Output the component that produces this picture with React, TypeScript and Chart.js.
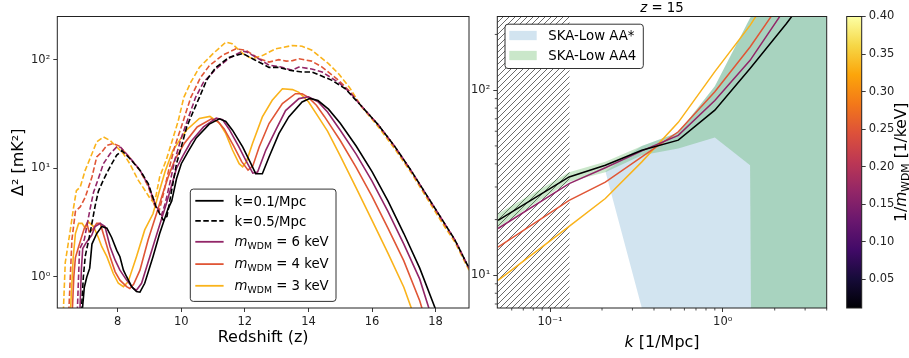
import React, { useEffect, useRef } from "react";
import { Chart, registerables } from "chart.js";

Chart.register(...registerables);

const FONT = "'DejaVu Sans', 'Liberation Sans', sans-serif";
Chart.defaults.font.family = FONT;

// ================= LEFT PANEL DATA: Δ²(z) =================
const zTicks = [8, 10, 12, 14, 16, 18];
const leftYTicks = [1, 10, 100];
const leftYTickLabels = ["10⁰", "10¹", "10²"];

// CDM (black), k = 0.1/Mpc
const zCdmK01 = [6.86, 6.95, 7.03, 7.12, 7.19, 7.34, 7.5, 7.66, 7.81, 7.97, 8.07, 8.18, 8.28, 8.44, 8.59, 8.7, 8.85, 9.11, 9.32, 9.58, 9.7, 9.85, 10.0, 10.2, 10.47, 10.88, 11.2, 11.4, 11.61, 11.93, 12.19, 12.34, 12.55, 12.76, 13.07, 13.38, 13.8, 14.05, 14.3, 14.63, 15.0, 15.5, 16.0, 16.5, 17.0, 17.5, 18.0, 18.1];
const dCdmK01 = [0.4, 0.8, 1.0, 1.2, 2.0, 2.5, 2.9, 2.8, 2.3, 1.75, 1.53, 1.15, 1.0, 0.81, 0.73, 0.72, 0.87, 1.53, 2.5, 4.2, 5.0, 8.0, 11.0, 14.0, 19.0, 25.5, 28.5, 27.0, 22.4, 15.7, 11.0, 8.9, 8.9, 12.7, 20.8, 29.7, 40.8, 44.0, 42.0, 35.0, 26.0, 16.0, 9.3, 5.0, 2.5, 1.2, 0.5, 0.42];
// 6 keV, k = 0.1/Mpc
const z6K01 = [6.8, 6.86, 6.9, 6.98, 7.08, 7.18, 7.29, 7.45, 7.6, 7.76, 7.92, 8.07, 8.28, 8.49, 8.59, 8.75, 9.01, 9.27, 9.53, 9.7, 9.85, 10.05, 10.3, 10.7, 11.1, 11.3, 11.5, 11.8, 12.05, 12.25, 12.4, 12.66, 12.97, 13.28, 13.7, 14.0, 14.3, 14.6, 15.0, 15.5, 16.0, 16.5, 17.0, 17.5, 17.85];
const d6K01 = [0.4, 1.2, 1.82, 2.0, 2.2, 2.4, 2.9, 3.1, 2.9, 1.89, 1.42, 1.15, 0.93, 0.78, 0.75, 0.87, 1.53, 2.7, 4.7, 7.0, 10.0, 13.0, 17.5, 24.0, 29.0, 28.0, 23.0, 16.0, 11.5, 9.0, 9.2, 14.7, 22.4, 34.0, 43.8, 45.5, 41.0, 33.0, 22.4, 13.5, 7.6, 4.0, 2.0, 0.95, 0.45];
// 4 keV, k = 0.1/Mpc
const z4K01 = [6.56, 6.62, 6.67, 6.77, 6.84, 6.95, 7.03, 7.1, 7.2, 7.34, 7.45, 7.6, 7.76, 7.92, 8.07, 8.28, 8.38, 8.5, 8.7, 8.96, 9.22, 9.43, 9.6, 9.8, 10.1, 10.5, 10.95, 11.15, 11.35, 11.65, 11.9, 12.1, 12.25, 12.45, 12.76, 13.18, 13.59, 13.8, 14.0, 14.25, 14.5, 15.0, 15.5, 16.0, 16.5, 17.0, 17.5, 17.6];
const d4K01 = [0.4, 1.0, 1.5, 1.89, 2.2, 2.8, 3.1, 2.6, 2.7, 3.1, 3.1, 2.2, 1.53, 1.11, 0.93, 0.81, 0.78, 0.85, 1.15, 2.2, 3.8, 6.0, 8.5, 12.0, 17.0, 24.0, 28.5, 27.0, 23.0, 16.0, 11.5, 9.6, 10.5, 15.7, 25.8, 39.4, 48.6, 48.5, 45.0, 38.0, 30.0, 18.0, 10.2, 5.5, 2.8, 1.4, 0.6, 0.48];
// 3 keV, k = 0.1/Mpc
const z3K01 = [6.5, 6.6, 6.67, 6.77, 6.88, 6.98, 7.08, 7.24, 7.39, 7.5, 7.66, 7.86, 8.02, 8.18, 8.33, 8.59, 8.85, 9.11, 9.32, 9.5, 9.74, 10.16, 10.57, 10.9, 11.2, 11.4, 11.61, 11.82, 11.93, 12.05, 12.24, 12.55, 12.86, 13.18, 13.5, 13.7, 14.0, 14.3, 14.6, 15.0, 15.5, 16.0, 16.5, 17.0, 17.25];
const d3K01 = [0.4, 1.5, 2.5, 3.1, 3.1, 2.8, 3.2, 2.9, 2.3, 1.89, 1.53, 1.07, 0.87, 0.81, 0.9, 1.53, 2.7, 3.8, 6.3, 9.5, 14.7, 22.4, 28.7, 30.0, 26.0, 20.8, 14.7, 11.0, 10.3, 11.5, 16.9, 29.7, 42.3, 54.0, 53.0, 50.0, 41.0, 30.0, 22.0, 13.0, 6.6, 3.3, 1.65, 0.8, 0.5];

// CDM, k = 0.5/Mpc
const zCdmK05 = [6.84, 6.92, 6.98, 7.13, 7.29, 7.39, 7.55, 7.76, 7.97, 8.13, 8.38, 8.7, 8.96, 9.22, 9.44, 9.55, 9.7, 9.85, 10.0, 10.17, 10.37, 10.57, 10.8, 11.09, 11.5, 11.93, 12.3, 12.76, 13.07, 13.4, 13.8, 14.11, 14.4, 14.74, 15.16, 15.68, 16.2, 16.72, 17.24, 17.76, 18.28, 18.6, 19.05];
const dCdmK05 = [0.4, 1.0, 1.55, 2.5, 4.5, 6.1, 7.8, 10.3, 13.2, 14.5, 12.3, 9.6, 7.2, 4.3, 3.3, 3.6, 6.3, 11.0, 15.7, 24.0, 33.0, 45.0, 65.0, 85.0, 105.0, 114.0, 100.0, 85.0, 85.0, 80.0, 77.0, 77.0, 71.0, 64.5, 54.0, 37.0, 25.0, 15.8, 9.4, 5.4, 3.1, 2.2, 1.2];
// 6 keV, k = 0.5/Mpc
const z6K05 = [6.72, 6.8, 6.95, 7.13, 7.24, 7.39, 7.55, 7.76, 7.97, 8.1, 8.38, 8.7, 8.96, 9.2, 9.38, 9.5, 9.65, 9.8, 10.0, 10.2, 10.45, 10.7, 11.09, 11.5, 11.93, 12.05, 12.34, 12.76, 13.1, 13.49, 13.7, 14.1, 14.43, 14.95, 15.3, 15.68, 16.2, 16.72, 17.24, 17.76, 18.28, 18.6, 19.05];
const d6K05 = [0.4, 1.8, 2.2, 4.2, 6.0, 8.0, 11.0, 13.6, 15.7, 15.5, 12.5, 9.6, 7.0, 4.5, 3.7, 4.8, 7.5, 12.0, 19.0, 28.0, 45.0, 62.0, 82.0, 103.0, 120.0, 118.0, 106.0, 89.0, 86.0, 80.0, 85.5, 82.0, 77.0, 61.7, 50.0, 37.0, 25.0, 15.8, 9.4, 5.4, 3.1, 2.2, 1.2];
// 4 keV, k = 0.5/Mpc
const z4K05 = [6.45, 6.56, 6.67, 6.82, 6.98, 7.19, 7.34, 7.5, 7.66, 7.86, 8.05, 8.38, 8.7, 8.96, 9.15, 9.3, 9.45, 9.6, 9.8, 10.0, 10.3, 10.6, 10.88, 11.3, 11.72, 12.03, 12.45, 12.76, 13.07, 13.3, 13.5, 13.7, 14.1, 14.43, 14.95, 15.3, 15.68, 16.2, 16.72, 17.24, 17.76, 18.28, 18.6, 19.05];
const d4K05 = [0.4, 2.2, 4.0, 4.4, 5.4, 8.3, 12.7, 14.1, 16.2, 16.9, 16.0, 12.5, 9.5, 6.8, 4.6, 4.0, 6.0, 9.5, 16.0, 24.0, 45.0, 68.0, 88.0, 110.0, 126.0, 122.0, 102.0, 95.0, 100.0, 97.0, 98.0, 102.0, 97.0, 85.5, 64.5, 51.0, 37.0, 25.0, 15.7, 9.3, 5.3, 3.05, 2.2, 1.2];
// 3 keV, k = 0.5/Mpc
const z3K05 = [6.28, 6.35, 6.51, 6.61, 6.7, 6.82, 6.98, 7.19, 7.34, 7.55, 7.76, 7.92, 8.18, 8.38, 8.64, 8.85, 9.01, 9.11, 9.2, 9.32, 9.53, 9.74, 9.9, 10.08, 10.3, 10.57, 10.99, 11.4, 11.6, 11.82, 12.0, 12.24, 12.55, 12.97, 13.49, 13.8, 14.11, 14.63, 14.95, 15.3, 15.68, 16.2, 16.72, 17.24, 17.76, 18.28, 18.6, 19.05];
const d3K05 = [0.4, 1.35, 2.7, 4.3, 6.2, 6.7, 9.6, 13.6, 17.5, 19.4, 18.0, 16.2, 13.6, 11.0, 7.8, 6.3, 5.3, 4.9, 5.5, 8.3, 12.0, 19.0, 27.0, 45.0, 62.0, 85.0, 113.0, 145.0, 140.0, 122.0, 110.0, 102.0, 109.0, 126.0, 135.0, 133.0, 122.0, 92.0, 74.0, 55.0, 36.5, 24.0, 15.0, 9.0, 5.1, 2.9, 2.1, 1.15];

// ================= RIGHT PANEL DATA: Δ²(k) at z = 15 =================
const kBins = [0.05, 0.129, 0.209, 0.34, 0.553, 0.9, 1.44, 2.34, 3.8];
const psCdm = [19.8, 34, 39.3, 47.4, 53.7, 78, 131, 229, 420];
const ps6 = [17.9, 31.3, 38.1, 47, 57, 88, 145, 283, 500];
const ps4 = [14.2, 25.4, 31.9, 43.6, 59.6, 98, 171, 330, 600];
const ps3 = [9.4, 18.4, 26, 41, 67, 126, 224, 450, 800];

const kAA4 = [0.05, 0.129, 0.209, 0.34, 0.553, 0.9, 1.44, 2.34, 3.8, 4.5];
const aa4Upper = [21.5, 36, 41, 50, 59, 105, 245, 520, 1000, 1200];
const aa4Lower = [18.2, 32, 36, 44.5, 48.4, 55.5, 39.3, 1e-30, 1e-30, 1e-30];

const kAAstar = [0.209, 0.34, 0.553, 0.9, 1.44, 2.34, 3.8, 4.5];
const aaStarUpper = [36.5, 50, 59, 105, 245, 520, 1000, 1200];
const aaStarLower = [36.5, 6.66, 1e-30, 1e-30, 1e-30, 1e-30, 1e-30, 1e-30];

const hatchK = [0.03, 0.13];
const hatchTop = [1000, 1000];

const rightXMajor = [0.1, 1];
const rightXMajorLabels = ["10⁻¹", "10⁰"];
const rightXMinor = [0.06, 0.07, 0.08, 0.09, 0.2, 0.3, 0.4, 0.5, 0.6, 0.7, 0.8, 0.9, 2, 3, 4];
const rightYMajor = [10, 100];
const rightYMajorLabels = ["10¹", "10²"];
const rightYMinor = [7, 8, 9, 20, 30, 40, 50, 60, 70, 80, 90, 200];

// ================= COLORBAR =================
const cbMin = 0.0115;
const cbMax = 0.4;
const cbTicks = [0.05, 0.1, 0.15, 0.2, 0.25, 0.3, 0.35, 0.4];
const INFERNO = ["#000004", "#160b39", "#420a68", "#6a176e", "#932667", "#bc3754", "#dd513a", "#f37819", "#fca50a", "#f6d746", "#fcffa4"];

// ================= STYLES =================
const COL_CDM = "#000000";
const COL_6 = "#922668";
const COL_4 = "#e05636";
const COL_3 = "#fab31b";
const AXIS_COL = "#222222";
const BLUE_FILL = "rgba(31,119,180,0.2)";
const GREEN_FILL = "rgba(44,160,44,0.25)";

type Part = { t: string; it?: boolean; sub?: boolean };

function fontFor(p: Part, size: number) {
  const s = p.sub ? size * 0.7 : size;
  return `${p.it ? "italic " : ""}${s}px ${FONT}`;
}
function measureRich(ctx: CanvasRenderingContext2D, parts: Part[], size: number) {
  let w = 0;
  for (const p of parts) {
    ctx.font = fontFor(p, size);
    w += ctx.measureText(p.t).width;
  }
  return w;
}
function drawRich(ctx: CanvasRenderingContext2D, parts: Part[], x: number, y: number, size: number, align: "left" | "center", color = "#000") {
  const w = measureRich(ctx, parts, size);
  let cx = align === "center" ? x - w / 2 : x;
  ctx.save();
  ctx.fillStyle = color;
  ctx.textAlign = "left";
  ctx.textBaseline = "alphabetic";
  for (const p of parts) {
    ctx.font = fontFor(p, size);
    const dy = p.sub ? size * 0.22 : 0;
    ctx.fillText(p.t, cx, y + dy);
    cx += ctx.measureText(p.t).width;
  }
  ctx.restore();
}

const leftLegendItems: { parts: Part[]; color: string; dash: boolean }[] = [
  { parts: [{ t: "k=0.1/Mpc" }], color: COL_CDM, dash: false },
  { parts: [{ t: "k=0.5/Mpc" }], color: COL_CDM, dash: true },
  { parts: [{ t: "m", it: true }, { t: "WDM", sub: true }, { t: " = 6 keV" }], color: COL_6, dash: false },
  { parts: [{ t: "m", it: true }, { t: "WDM", sub: true }, { t: " = 4 keV" }], color: COL_4, dash: false },
  { parts: [{ t: "m", it: true }, { t: "WDM", sub: true }, { t: " = 3 keV" }], color: COL_3, dash: false },
];
const rightLegendItems = [
  { label: "SKA-Low AA*", color: BLUE_FILL },
  { label: "SKA-Low AA4", color: GREEN_FILL },
];

const DASH = [5.5, 2.5];
const LEG = 13.3;

function lineDS(xs: number[], ys: number[], color: string, dashed: boolean, width = 1.6) {
  return {
    data: xs.map((x, i) => ({ x, y: ys[i] })),
    borderColor: color,
    borderWidth: width,
    borderDash: dashed ? DASH : [],
    pointRadius: 0,
    fill: false,
    tension: 0,
    order: 0,
  };
}

const framePlugin = {
  id: "frame",
  afterDatasetsDraw(chart: any) {
    const { ctx, chartArea: a } = chart;
    ctx.save();
    ctx.strokeStyle = AXIS_COL;
    ctx.lineWidth = 1;
    ctx.strokeRect(a.left, a.top, a.width, a.height);
    ctx.restore();
  },
};

function roundBox(ctx: CanvasRenderingContext2D, x: number, y: number, w: number, h: number) {
  ctx.save();
  ctx.beginPath();
  (ctx as any).roundRect(x, y, w, h, 3);
  ctx.fillStyle = "#ffffff";
  ctx.fill();
  ctx.strokeStyle = "#333333";
  ctx.lineWidth = 1;
  ctx.stroke();
  ctx.restore();
}

const leftLegendPlugin = {
  id: "leftLegend",
  afterDraw(chart: any) {
    const { ctx, chartArea: a } = chart;
    const w = 145.7, h = 112.3;
    const bx = a.left + (a.width - w) / 2;
    const by = a.bottom - 6.6 - h;
    roundBox(ctx, bx, by, w, h);
    const rows = [11.7, 31.7, 52.7, 75, 96.7];
    leftLegendItems.forEach((it, i) => {
      const cy = by + rows[i];
      ctx.save();
      ctx.strokeStyle = it.color;
      ctx.lineWidth = 1.8;
      ctx.setLineDash(it.dash ? DASH : []);
      ctx.beginPath();
      ctx.moveTo(bx + 5, cy);
      ctx.lineTo(bx + 33.3, cy);
      ctx.stroke();
      ctx.restore();
      const isMath = it.parts.length > 1;
      drawRich(ctx, it.parts, bx + 44.3, cy + (isMath ? 0.3 : 0.37) * LEG, LEG, "left");
    });
  },
};

const rightDecorPlugin = {
  id: "rightDecor",
  afterDraw(chart: any) {
    const { ctx, chartArea: a, scales } = chart;
    // minor ticks
    ctx.save();
    ctx.strokeStyle = AXIS_COL;
    ctx.lineWidth = 0.8;
    ctx.beginPath();
    for (const v of rightXMinor) {
      const px = scales.x.getPixelForValue(v);
      if (px < a.left - 0.5 || px > a.right + 0.5) continue;
      ctx.moveTo(px, a.bottom);
      ctx.lineTo(px, a.bottom + 2.5);
    }
    for (const v of rightYMinor) {
      const py = scales.y.getPixelForValue(v);
      if (py < a.top - 0.5 || py > a.bottom + 0.5) continue;
      ctx.moveTo(a.left, py);
      ctx.lineTo(a.left - 2.5, py);
    }
    ctx.stroke();
    ctx.restore();
    // legend
    const bx = a.left + 7.7, by = a.top + 7.7, w = 138.3, h = 44.3;
    roundBox(ctx, bx, by, w, h);
    const rows = [11.3, 31.3];
    rightLegendItems.forEach((it, i) => {
      const cy = by + rows[i];
      ctx.save();
      ctx.fillStyle = it.color;
      ctx.fillRect(bx + 4.3, cy - 4.65, 27.4, 9.3);
      ctx.restore();
      drawRich(ctx, [{ t: it.label }], bx + 43.3, cy + 0.37 * LEG, LEG, "left");
    });
    // title and x label
    const cx = (a.left + a.right) / 2;
    drawRich(ctx, [{ t: "z", it: true }, { t: " = 15" }], cx, 12, LEG, "center");
    drawRich(ctx, [{ t: "k", it: true }, { t: " [1/Mpc]" }], cx, 346.5, 16, "center");
  },
};

const cbTitlePlugin = {
  id: "cbTitle",
  afterDraw(chart: any) {
    const { ctx, chartArea: a } = chart;
    ctx.save();
    ctx.translate(66, (a.top + a.bottom) / 2);
    ctx.rotate(-Math.PI / 2);
    drawRich(ctx, [{ t: "1/" }, { t: "m", it: true }, { t: "WDM", sub: true }, { t: " [1/keV]" }], 0, 0, 15.5, "center");
    ctx.restore();
  },
};

function makeHatch(): CanvasPattern | string {
  const c = document.createElement("canvas");
  c.width = 6;
  c.height = 6;
  const g = c.getContext("2d");
  if (!g) return "rgba(0,0,0,0)";
  g.strokeStyle = "#5a5a5a";
  g.lineWidth = 0.9;
  g.beginPath();
  g.moveTo(-1, 7);
  g.lineTo(7, -1);
  g.moveTo(-1, 1);
  g.lineTo(1, -1);
  g.moveTo(5, 7);
  g.lineTo(7, 5);
  g.stroke();
  return g.createPattern(c, "repeat") || "rgba(0,0,0,0)";
}

const tickCommon = { font: { size: 11.5 }, color: AXIS_COL, padding: 3, maxRotation: 0, autoSkip: false };
const gridCommon = { drawOnChartArea: false, drawTicks: true, tickLength: 4, color: AXIS_COL, lineWidth: 0.9 };

export default function App() {
  const leftRef = useRef<HTMLCanvasElement>(null);
  const rightRef = useRef<HTMLCanvasElement>(null);
  const cbRef = useRef<HTMLCanvasElement>(null);

  useEffect(() => {
    const charts: Chart[] = [];
    const base = {
      responsive: false,
      maintainAspectRatio: false,
      animation: false as const,
      devicePixelRatio: 1,
      events: [] as any[],
    };

    // ---------- Left chart ----------
    if (leftRef.current) {
      const leftDatasets = [
        lineDS(zCdmK01, dCdmK01, COL_CDM, false),
        lineDS(zCdmK05, dCdmK05, COL_CDM, true),
        lineDS(z6K01, d6K01, COL_6, false),
        lineDS(z6K05, d6K05, COL_6, true),
        lineDS(z4K01, d4K01, COL_4, false),
        lineDS(z4K05, d4K05, COL_4, true),
        lineDS(z3K01, d3K01, COL_3, false),
        lineDS(z3K05, d3K05, COL_3, true),
      ];
      charts.push(
        new Chart(leftRef.current, {
          type: "line",
          data: { datasets: leftDatasets as any },
          options: {
            ...base,
            layout: { padding: { top: 16.5, right: 11, left: 0, bottom: 0 } },
            plugins: { legend: { display: false }, tooltip: { enabled: false }, title: { display: false } },
            scales: {
              x: {
                type: "linear",
                min: 6.1,
                max: 19.05,
                afterBuildTicks: (s: any) => {
                  s.ticks = zTicks.map((v) => ({ value: v }));
                },
                afterFit: (s: any) => {
                  s.height = 50;
                },
                grid: gridCommon,
                border: { display: false },
                ticks: { ...tickCommon, callback: (v: any) => String(v) },
                title: { display: true, text: "Redshift (z)", font: { size: 16 }, color: "#000", padding: { top: 0, bottom: 10.6 } },
              },
              y: {
                type: "logarithmic",
                min: 0.515,
                max: 250,
                afterBuildTicks: (s: any) => {
                  s.ticks = leftYTicks.map((v) => ({ value: v }));
                },
                afterFit: (s: any) => {
                  s.width = 57.3;
                },
                grid: gridCommon,
                border: { display: false },
                ticks: {
                  ...tickCommon,
                  callback: (v: any) => {
                    const i = leftYTicks.indexOf(Number(v));
                    return i >= 0 ? leftYTickLabels[i] : "";
                  },
                },
                title: { display: true, text: "Δ² [mK²]", font: { size: 16 }, color: "#000", padding: { top: 9, bottom: 0 } },
              },
            },
          } as any,
          plugins: [framePlugin, leftLegendPlugin],
        })
      );
    }

    // ---------- Right chart ----------
    if (rightRef.current) {
      const hatch = makeHatch();
      const rightDatasets: any[] = [
        lineDS(kBins, psCdm, COL_CDM, false, 1.5),
        lineDS(kBins, ps6, COL_6, false, 1.5),
        lineDS(kBins, ps4, COL_4, false, 1.5),
        lineDS(kBins, ps3, COL_3, false, 1.5),
        {
          data: kAA4.map((x, i) => ({ x, y: aa4Upper[i] })),
          borderWidth: 0,
          borderColor: "rgba(0,0,0,0)",
          backgroundColor: GREEN_FILL,
          pointRadius: 0,
          fill: "+1",
          tension: 0,
          order: 5,
        },
        {
          data: kAA4.map((x, i) => ({ x, y: aa4Lower[i] })),
          borderWidth: 0,
          borderColor: "rgba(0,0,0,0)",
          pointRadius: 0,
          fill: false,
          tension: 0,
          order: 5,
        },
        {
          data: kAAstar.map((x, i) => ({ x, y: aaStarUpper[i] })),
          borderWidth: 0,
          borderColor: "rgba(0,0,0,0)",
          backgroundColor: BLUE_FILL,
          pointRadius: 0,
          fill: "+1",
          tension: 0,
          order: 6,
        },
        {
          data: kAAstar.map((x, i) => ({ x, y: aaStarLower[i] })),
          borderWidth: 0,
          borderColor: "rgba(0,0,0,0)",
          pointRadius: 0,
          fill: false,
          tension: 0,
          order: 6,
        },
        {
          data: hatchK.map((x, i) => ({ x, y: hatchTop[i] })),
          borderWidth: 0,
          borderColor: "rgba(0,0,0,0)",
          backgroundColor: hatch,
          pointRadius: 0,
          fill: "start",
          tension: 0,
          order: 7,
        },
      ];
      charts.push(
        new Chart(rightRef.current, {
          type: "line",
          data: { datasets: rightDatasets },
          options: {
            ...base,
            layout: { padding: { top: 16.5, right: 13.3, left: 0, bottom: 0 } },
            plugins: {
              legend: { display: false },
              tooltip: { enabled: false },
              title: { display: false },
              filler: { drawTime: "beforeDatasetsDraw", propagate: false },
            },
            scales: {
              x: {
                type: "logarithmic",
                min: 0.0495,
                max: 4.0,
                afterBuildTicks: (s: any) => {
                  s.ticks = rightXMajor.map((v) => ({ value: v }));
                },
                afterFit: (s: any) => {
                  s.height = 50;
                },
                grid: gridCommon,
                border: { display: false },
                ticks: {
                  ...tickCommon,
                  callback: (v: any) => {
                    const i = rightXMajor.indexOf(Number(v));
                    return i >= 0 ? rightXMajorLabels[i] : "";
                  },
                },
              },
              y: {
                type: "logarithmic",
                min: 6.66,
                max: 250,
                afterBuildTicks: (s: any) => {
                  s.ticks = rightYMajor.map((v) => ({ value: v }));
                },
                afterFit: (s: any) => {
                  s.width = 37.3;
                },
                grid: gridCommon,
                border: { display: false },
                ticks: {
                  ...tickCommon,
                  callback: (v: any) => {
                    const i = rightYMajor.indexOf(Number(v));
                    return i >= 0 ? rightYMajorLabels[i] : "";
                  },
                },
              },
            },
          } as any,
          plugins: [framePlugin, rightDecorPlugin],
        })
      );
    }

    // ---------- Colorbar ----------
    if (cbRef.current) {
      charts.push(
        new Chart(cbRef.current, {
          type: "bar",
          data: {
            labels: [""],
            datasets: [
              {
                data: [[cbMin, cbMax]] as any,
                backgroundColor: (c: any) => {
                  const ch = c.chart;
                  const a = ch.chartArea;
                  if (!a) return INFERNO[0];
                  const g = ch.ctx.createLinearGradient(0, a.bottom, 0, a.top);
                  INFERNO.forEach((col, i) => g.addColorStop(i / (INFERNO.length - 1), col));
                  return g;
                },
                borderWidth: 0,
                barPercentage: 1,
                categoryPercentage: 1,
              },
            ],
          },
          options: {
            ...base,
            layout: { padding: { top: 16.5, right: 0, left: 6.7, bottom: 50 } },
            plugins: { legend: { display: false }, tooltip: { enabled: false } },
            scales: {
              x: { display: false },
              y: {
                position: "right",
                min: cbMin,
                max: cbMax,
                afterBuildTicks: (s: any) => {
                  s.ticks = cbTicks.map((v) => ({ value: v }));
                },
                afterFit: (s: any) => {
                  s.width = 47.3;
                },
                grid: gridCommon,
                border: { display: false },
                ticks: { ...tickCommon, callback: (v: any) => Number(v).toFixed(2) },
              },
            },
          } as any,
          plugins: [framePlugin, cbTitlePlugin],
        })
      );
    }

    return () => {
      charts.forEach((c) => c.destroy());
    };
  }, []);

  const cv = (left: number, width: number): React.CSSProperties => ({
    position: "absolute",
    left,
    top: 0,
    width,
    height: 358,
  });

  return (
    <div style={{ position: "fixed", left: 0, top: 0, width: 909, height: 358, background: "#ffffff", overflow: "hidden" }}>
      <canvas ref={leftRef} width={480} height={358} style={cv(0, 480)} />
      <canvas ref={rightRef} width={380} height={358} style={cv(460, 380)} />
      <canvas ref={cbRef} width={69} height={358} style={cv(840, 69)} />
    </div>
  );
}
